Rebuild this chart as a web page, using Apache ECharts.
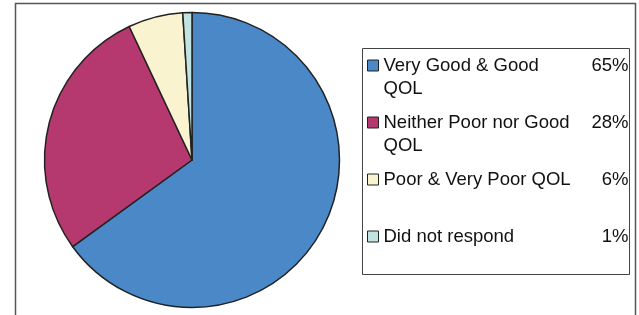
<!DOCTYPE html>
<html>
<head>
<meta charset="utf-8">
<script src="https://cdn.jsdelivr.net/npm/echarts@6/dist/echarts.min.js"></script>
<style>
  html, body { margin: 0; padding: 0; background: #fff; }
  #chart { width: 639px; height: 315px; }
</style>
</head>
<body>
<div id="chart"></div>
<script>
// categories and values
var categories = ['Very Good & Good\nQOL', 'Neither Poor nor Good\nQOL', 'Poor & Very Poor QOL', 'Did not respond'];
var keys = ['Very Good & Good QOL', 'Neither Poor nor Good QOL', 'Poor & Very Poor QOL', 'Did not respond'];
var values = [65, 28, 6, 1];
var colors = ['#4A88C7', '#B5386F', '#FAF3CF', '#C1E3E1'];

var chart = echarts.init(document.getElementById('chart'));

var pieData = keys.map(function(k, i) {
  return { name: k, value: values[i], itemStyle: { color: colors[i] } };
});

// legend text: one line above left empty, so the icon sits on the first text line
function legendText(name) {
  var i = keys.indexOf(name);
  var lines = categories[i].split('\n');
  var s = '{n| }\n{n|' + lines[0] + '}{p|' + values[i] + '%}\n';
  s += '{n|' + (lines[1] || ' ') + '}';
  return s;
}

chart.setOption({
  animation: false,
  color: colors,
  graphic: [
    {
      type: 'rect', silent: true,
      shape: { x: 15.5, y: 3.5, width: 620, height: 330 },
      style: { fill: 'none', stroke: '#555', lineWidth: 1.5 }
    },
    {
      type: 'rect', silent: true,
      shape: { x: 362.5, y: 48.5, width: 267, height: 226 },
      style: { fill: 'none', stroke: '#444', lineWidth: 1 }
    }
  ],
  legend: {
    orient: 'vertical',
    left: 362,
    top: 33,
    padding: [0, 0, 0, 5],
    itemWidth: 11,
    itemHeight: 11,
    itemGap: -8,
    icon: 'rect',
    selectedMode: false,
    data: keys,
    itemStyle: { borderColor: '#222', borderWidth: 1 },
    formatter: legendText,
    textStyle: {
      fontFamily: 'Liberation Sans',
      rich: {
        n: { fontFamily: 'Liberation Sans', fontSize: 18.5, color: '#111', width: 195, lineHeight: 23 },
        p: { fontFamily: 'Liberation Sans', fontSize: 18.5, color: '#111', width: 50, align: 'right', lineHeight: 23 }
      }
    }
  },
  series: [{
    type: 'pie',
    center: [192, 160],
    radius: 147.5,
    startAngle: 90,
    clockwise: true,
    label: { show: false },
    labelLine: { show: false },
    emphasis: { disabled: true },
    itemStyle: { borderColor: '#222', borderWidth: 1.5 },
    data: pieData
  }]
});
</script>
</body>
</html>
